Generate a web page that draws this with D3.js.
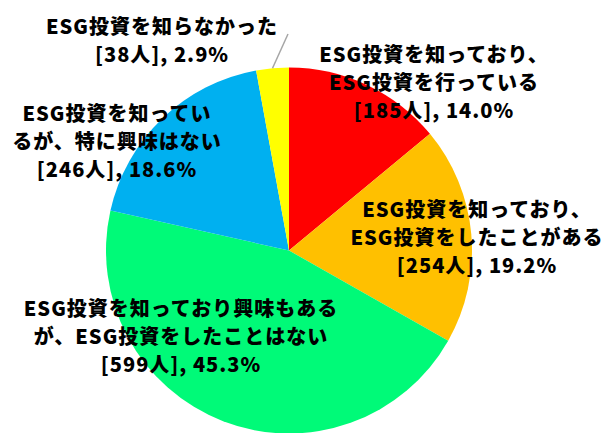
<!DOCTYPE html>
<html>
<head>
<meta charset="utf-8">
<script src="https://cdn.jsdelivr.net/npm/d3@7"></script>
<style>
  html, body { margin: 0; padding: 0; background: #fff; }
  svg text { font-family: "Noto Sans CJK JP", sans-serif; font-weight: 900; }
</style>
</head>
<body>
<div id="chart"></div>
<script>
// data
const categories = [
    "ESG投資を知っており、ESG投資を行っている",
    "ESG投資を知っており、ESG投資をしたことがある",
    "ESG投資を知っており興味もあるが、ESG投資をしたことはない",
    "ESG投資を知っているが、特に興味はない",
    "ESG投資を知らなかった"
]
const counts = [185, 254, 599, 246, 38]
const percents = [14.0, 19.2, 45.3, 18.6, 2.9]
const labelLines = [
    ["ESG投資を知っており、", "ESG投資を行っている"],
    ["ESG投資を知っており、", "ESG投資をしたことがある"],
    ["ESG投資を知っており興味もある", "が、ESG投資をしたことはない"],
    ["ESG投資を知ってい", "るが、特に興味はない"],
    ["ESG投資を知らなかった"]
]
const colors = ["#FF0000", "#FFC000", "#00FA78", "#00B0F0", "#FFFF00"]

// layout
const width = 608, height = 433
const cx = 289, cy = 250.5, radius = 183
const lineGap = 28
const labelPos = [
    {x: 434, y: 62},
    {x: 477, y: 217},
    {x: 181, y: 316},
    {x: 117, y: 121},
    {x: 162, y: 34}
]
const leaderEnd = {x: 288, y: 34}

const svg = d3.select("#chart").append("svg")
    .attr("width", width)
    .attr("height", height)

const g = svg.append("g")
    .attr("transform", `translate(${cx},${cy})`)

const rows = categories.map((c, i) => ({name: c, count: counts[i], pct: percents[i], i: i}))

const pie = d3.pie()
    .sort(null)
    .value(d => d.count)

const arc = d3.arc()
    .innerRadius(0)
    .outerRadius(radius)

const arcs = pie(rows)

g.selectAll("path.slice")
    .data(arcs)
    .join("path")
    .attr("class", "slice")
    .attr("d", arc)
    .attr("fill", d => colors[d.data.i])

// leader line for the small slice
const small = arcs[4]
const mid = (small.startAngle + small.endAngle) / 2
svg.append("line")
    .attr("x1", cx + radius * Math.sin(mid))
    .attr("y1", cy - radius * Math.cos(mid))
    .attr("x2", leaderEnd.x)
    .attr("y2", leaderEnd.y)
    .attr("stroke", "#A6A6A6")
    .attr("stroke-width", 1.5)

// labels
const labels = svg.selectAll("text.label")
    .data(rows)
    .join("text")
    .attr("class", "label")
    .attr("text-anchor", "middle")
    .attr("font-size", 20)
    .attr("letter-spacing", 1)
    .attr("fill", "#000")

labels.each(function(d) {
    const t = d3.select(this)
    const p = labelPos[d.i]
    const lines = labelLines[d.i].concat([`[${d.count}人], ${d.pct.toFixed(1)}%`])
    lines.forEach((ln, k) => {
        t.append("tspan")
            .attr("x", p.x)
            .attr("y", p.y + k * lineGap)
            .text(ln)
    })
})
</script>
</body>
</html>
